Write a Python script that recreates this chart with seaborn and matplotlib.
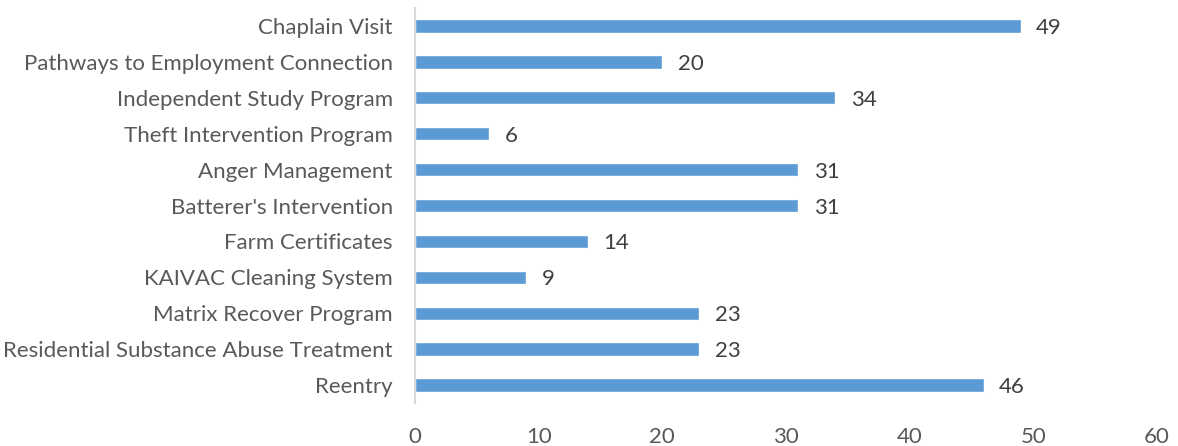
import matplotlib
matplotlib.use("Agg")
import matplotlib.pyplot as plt
import seaborn as sns
import pandas as pd

programs = [
    "Chaplain Visit",
    "Pathways to Employment Connection",
    "Independent Study Program",
    "Theft Intervention Program",
    "Anger Management",
    "Batterer's Intervention",
    "Farm Certificates",
    "KAIVAC Cleaning System",
    "Matrix Recover Program",
    "Residential Substance Abuse Treatment",
    "Reentry",
]
participants = [49, 20, 34, 6, 31, 31, 14, 9, 23, 23, 46]
x_ticks = [0, 10, 20, 30, 40, 50, 60]

df = pd.DataFrame({"program": programs, "count": participants})

sns.set_theme(style="white")
plt.rcParams["font.family"] = ["Lato", "DejaVu Sans"]

W, H = 1178, 446
fig = plt.figure(figsize=(W / 100, H / 100), dpi=100)
ax = fig.add_axes([415 / W, 1 - 403 / H, (1157 - 415) / W, (403 - 8) / H])

sns.barplot(data=df, x="count", y="program", orient="h", color="#5B9BD5",
            saturation=1, width=0.37, ax=ax)

ax.set_xlim(0, 60)
ax.set_xticks(x_ticks)
ax.set_xlabel("")
ax.set_ylabel("")
for side in ["top", "right", "bottom"]:
    ax.spines[side].set_visible(False)
ax.spines["left"].set_color("#D9D9D9")
ax.spines["left"].set_linewidth(1.5)
ax.tick_params(axis="x", length=0, pad=17, labelsize=16, labelcolor="#595959")
ax.tick_params(axis="y", length=0, pad=16, labelsize=16, labelcolor="#595959")

# value labels just past the end of each bar
for container in ax.containers:
    texts = ax.bar_label(container, labels=[str(v) for v in participants],
                         padding=11, fontsize=16, color="#404040")
    for t in texts:
        t.set_va("center_baseline")

fig.savefig("out.png", dpi=100)
